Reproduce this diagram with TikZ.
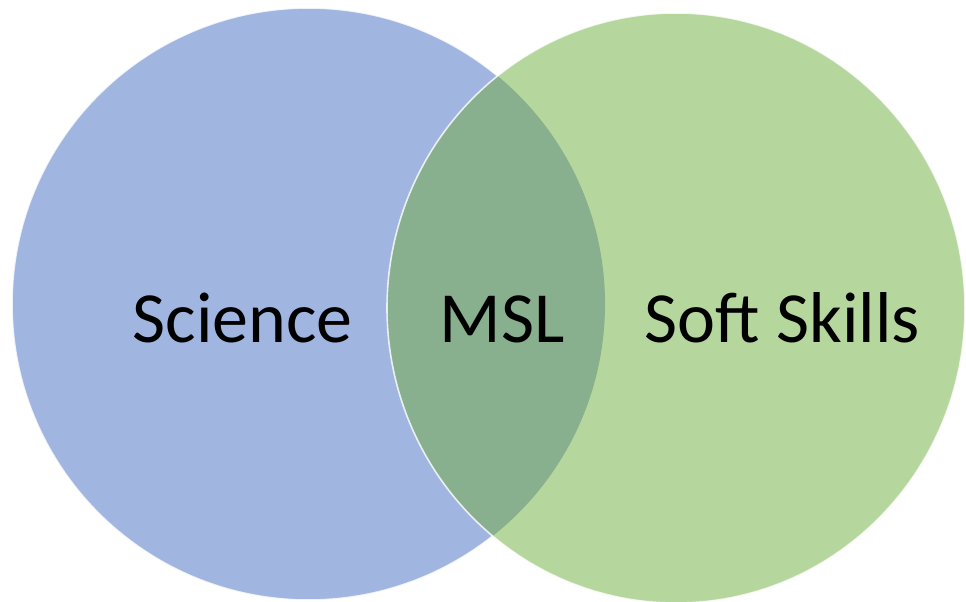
\documentclass[tikz,border=0pt]{standalone}
\usepackage{fontspec}
\setmainfont{Carlito}
\definecolor{sciblue}{HTML}{A0B5E0}
\definecolor{softgreen}{HTML}{B5D69D}
\definecolor{mslgreen}{HTML}{88AF8E}
\begin{document}
\begin{tikzpicture}[x=0.75pt, y=-0.75pt,
	word/.style={font=\fontsize{54}{60}\selectfont, inner sep=0pt, anchor=base, black},
	rim/.style={draw=white, opacity=0.8, line width=1.2pt}]
	\useasboundingbox (0,0) rectangle (966,601);
	\clip (0,0) rectangle (966,601);
	% the two sets
	\fill[sciblue] (308.5,304) ellipse [x radius=296.5, y radius=296];
	\draw[rim] (308.5,304) ellipse [x radius=296.5, y radius=296];
	\fill[softgreen] (676,308) ellipse [x radius=289, y radius=295];
	% overlap
	\begin{scope}
		\clip (308.5,304) ellipse [x radius=296.5, y radius=296];
		\fill[mslgreen] (676,308) ellipse [x radius=289, y radius=295];
	\end{scope}
	\draw[rim] (676,308) ellipse [x radius=289, y radius=295];
	% labels
	\node[word] (science) at (242.5,342) {Science};
	\node[word] (msl) at (502,342) {MSL};
	\node[word] (skills) at (782.5,342) {Soft Skills};
\end{tikzpicture}
\end{document}
